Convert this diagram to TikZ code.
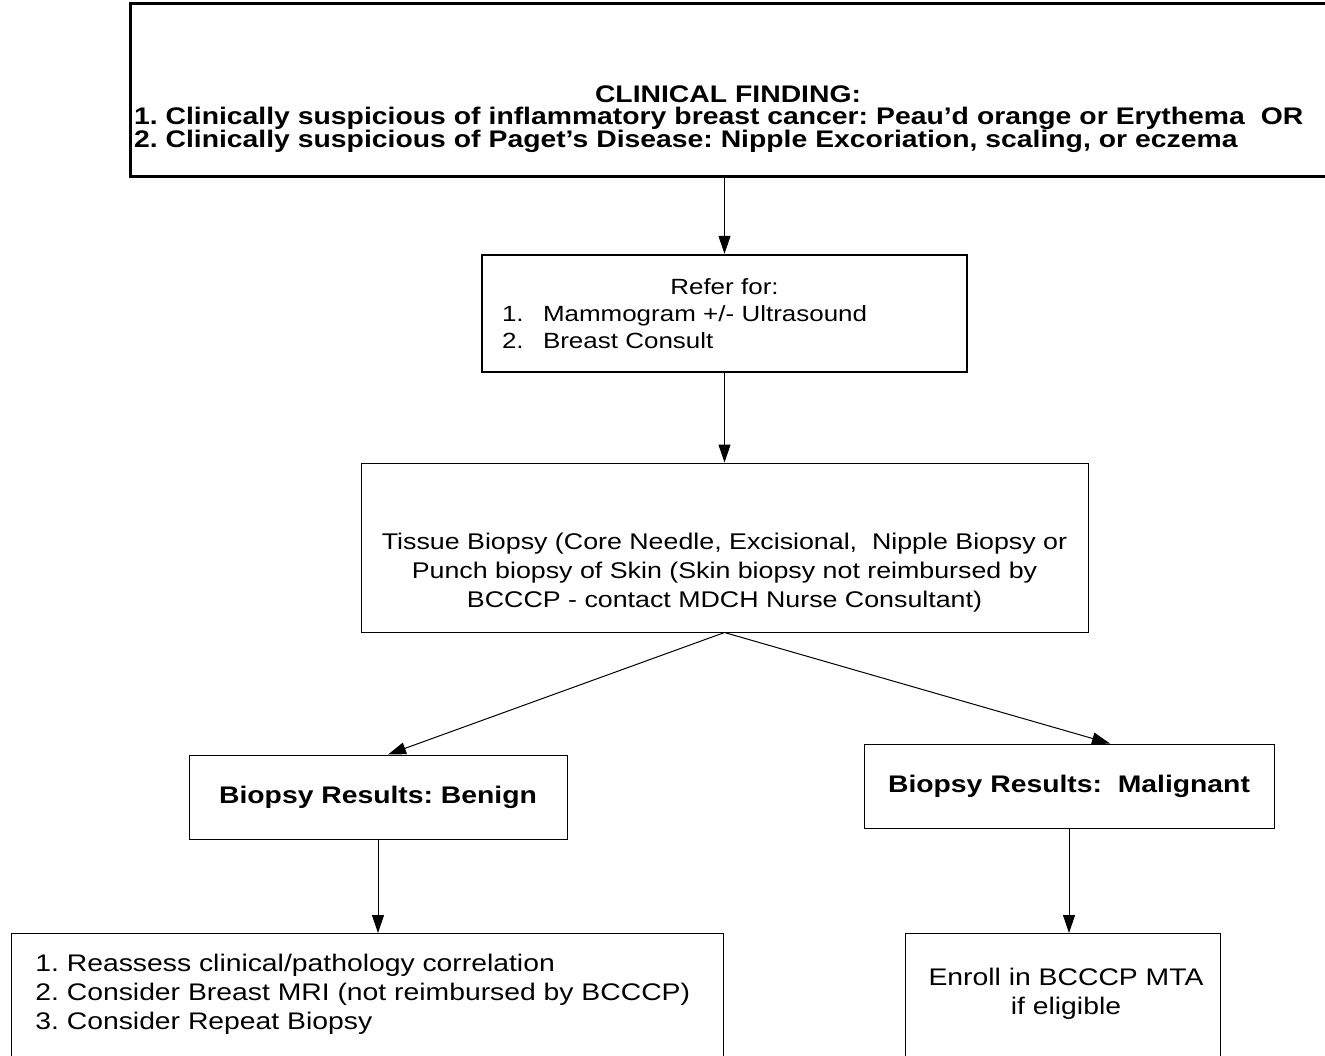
\documentclass[tikz,border=0pt]{standalone}
\usepackage{fontspec}
\setmainfont{Liberation Sans}[FakeStretch=1.18]
\usetikzlibrary{arrows.meta}
\frenchspacing
\tikzset{
  box/.style={draw, line width=0.5pt, inner sep=0pt},
  heavybox/.style={draw, line width=1.5pt, inner sep=0pt},
  midbox/.style={draw, line width=1.2pt, inner sep=0pt},
  arrow/.style={-{Triangle[length=9pt,width=6pt]}, line width=0.5pt},
  txt/.style={font=\fontsize{12}{14.5}\selectfont, inner sep=0pt},
  boldtxt/.style={font=\fontsize{12}{14.5}\selectfont\bfseries, inner sep=0pt},
}
\begin{document}
\begin{tikzpicture}[x=0.5pt, y=-0.5pt]
  \useasboundingbox (0,0) rectangle (1325,1055);
  \clip (0,0) rectangle (1325,1055);

  \node[heavybox, minimum width=600pt, minimum height=86.5pt] (finding) at (730,89.5) {};
  \node[inner sep=0pt, text width=594pt, align=left,
        font={\fontsize{12}{11.2}\selectfont\bfseries\lineskiplimit=-20pt\relax}] (findingtxt) at (728,119)
    {\makebox[\hsize][c]{CLINICAL FINDING:}\\
     1. Clinically suspicious of inflammatory breast cancer: Peau’d orange or Erythema\ \ OR\\
     2. Clinically suspicious of Paget’s Disease: Nipple Excoriation, scaling, or eczema};

  \node[midbox, font=\fontsize{11}{13.5}\selectfont, minimum width=242.5pt, minimum height=58.5pt,
        text width=222.5pt, align=left] (refer) at (724.5,313.5)
    {\makebox[\hsize][c]{Refer for:}\\
     \makebox[20.5pt][l]{1.}Mammogram +/- Ultrasound\\
     \makebox[20.5pt][l]{2.}Breast Consult};

  \node[box, minimum width=363.5pt, minimum height=84.5pt] (tissue) at (724.5,547.5) {};
  \node[inner sep=0pt, font=\fontsize{11.35}{14.5}\selectfont, align=center] (tissuetxt) at (724.5,573)
    {Tissue Biopsy (Core Needle, Excisional,\ \ Nipple Biopsy or\\
     Punch biopsy of Skin (Skin biopsy not reimbursed by\\
     BCCCP - contact MDCH Nurse Consultant)};

  \node[box, boldtxt, minimum width=189pt, minimum height=42pt] (benign) at (378,797)
    {Biopsy Results: Benign};
  \node[box, boldtxt, minimum width=205pt, minimum height=42pt] (malignant) at (1069,786)
    {Biopsy Results:\ \ Malignant};

  \node[box, anchor=north, minimum width=356pt, minimum height=80pt] (reassess) at (367,933) {};
  \node[txt, anchor=west, align=left] (reassesstxt) at (35,994)
    {1. Reassess clinical/pathology correlation\\
     2. Consider Breast MRI (not reimbursed by BCCCP)\\
     3. Consider Repeat Biopsy};

  \node[box, anchor=north, minimum width=157.5pt, minimum height=80pt] (enroll) at (1062.5,933) {};
  \node[txt, align=center] (enrolltxt) at (1066,993.5)
    {Enroll in BCCCP MTA\\if eligible};

  \draw[arrow] (finding.south -| refer.north) -- (refer.north);
  \draw[arrow] (refer.south) -- (tissue.north);
  \draw[arrow] (tissue.south) -- ([xshift=5pt]benign.north);
  \draw[arrow] (tissue.south) -- ([xshift=20.5pt]malignant.north);
  \draw[arrow] (benign.south) -- (benign.south |- reassess.north);
  \draw[arrow] (malignant.south) -- (malignant.south |- enroll.north);
\end{tikzpicture}
\end{document}
